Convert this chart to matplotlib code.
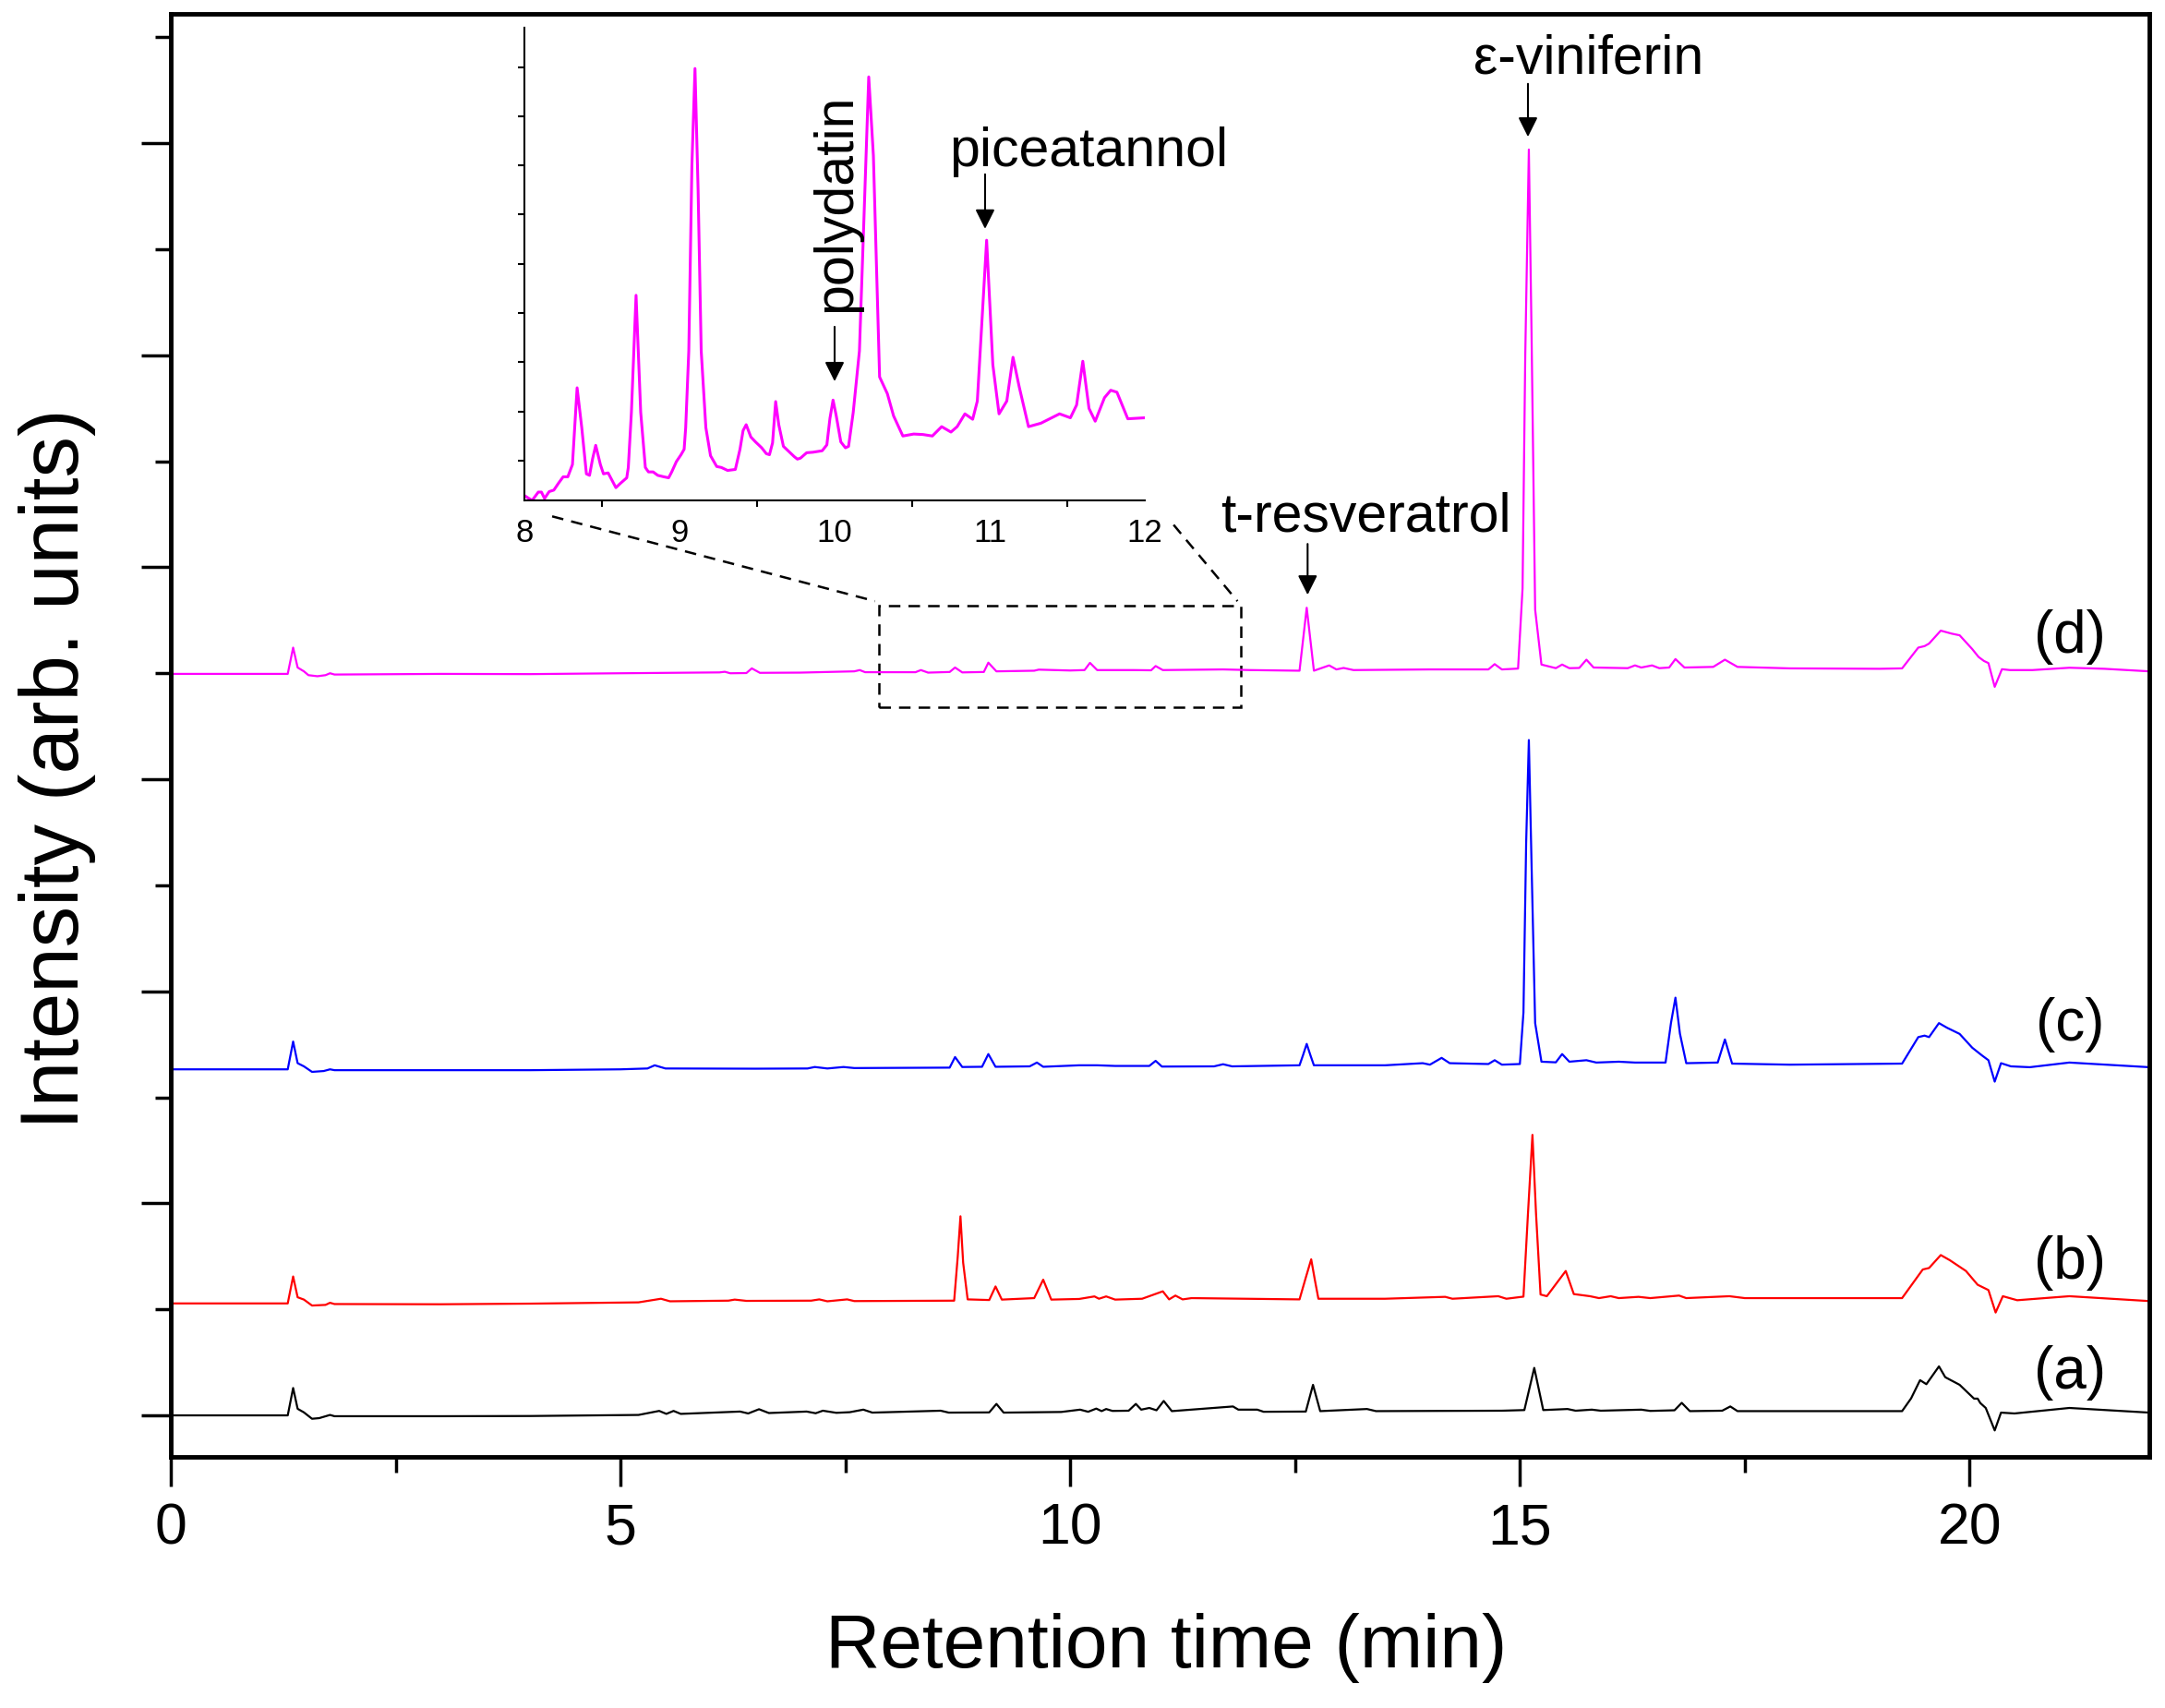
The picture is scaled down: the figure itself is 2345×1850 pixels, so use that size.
import numpy as np
import matplotlib.pyplot as plt
from matplotlib.ticker import MultipleLocator

plt.rcParams['font.family'] = ['Liberation Sans', 'DejaVu Sans']

# chromatograms, (retention time [min], offset intensity [arb. units])
trace_a = [(0.00, 0.000), (1.30, 0.000), (1.36, 0.129), (1.41, 0.031), (1.48, 0.014), (1.57, -0.016),
           (1.65, -0.013), (1.77, 0.002), (1.82, -0.004), (3.00, -0.004), (4.00, -0.003), (5.20, 0.002),
           (5.43, 0.021), (5.51, 0.007), (5.59, 0.021), (5.67, 0.007), (6.33, 0.018), (6.42, 0.009),
           (6.54, 0.029), (6.65, 0.011), (7.07, 0.018), (7.17, 0.010), (7.25, 0.022), (7.40, 0.012),
           (7.55, 0.015), (7.70, 0.027), (7.80, 0.013), (8.56, 0.022), (8.65, 0.013), (9.10, 0.014),
           (9.18, 0.054), (9.26, 0.013), (9.90, 0.016), (10.11, 0.027), (10.20, 0.017), (10.29, 0.032),
           (10.35, 0.020), (10.40, 0.030), (10.47, 0.021), (10.65, 0.022), (10.73, 0.054), (10.79, 0.027),
           (10.88, 0.035), (10.96, 0.024), (11.04, 0.068), (11.13, 0.020), (11.81, 0.042), (11.87, 0.027),
           (12.08, 0.027), (12.15, 0.017), (12.62, 0.018), (12.70, 0.144), (12.78, 0.020), (13.30, 0.030),
           (13.40, 0.020), (14.80, 0.022), (15.05, 0.025), (15.16, 0.224), (15.26, 0.025), (15.53, 0.030),
           (15.62, 0.022), (15.80, 0.027), (15.90, 0.022), (16.35, 0.027), (16.45, 0.021), (16.72, 0.024),
           (16.80, 0.059), (16.89, 0.020), (17.25, 0.022), (17.34, 0.042), (17.42, 0.020), (19.25, 0.020),
           (19.35, 0.080), (19.45, 0.166), (19.52, 0.147), (19.66, 0.231), (19.73, 0.180), (19.89, 0.144),
           (20.05, 0.079), (20.09, 0.079), (20.12, 0.058), (20.18, 0.035), (20.28, -0.071), (20.35, 0.013),
           (20.50, 0.009), (21.11, 0.035), (22.00, 0.013)]

trace_b = [(0.00, 0.528), (1.30, 0.528), (1.36, 0.655), (1.41, 0.557), (1.48, 0.546), (1.57, 0.518),
           (1.72, 0.521), (1.77, 0.531), (1.82, 0.525), (3.00, 0.524), (4.00, 0.527), (5.20, 0.533),
           (5.45, 0.550), (5.55, 0.538), (6.20, 0.541), (6.27, 0.546), (6.40, 0.540), (7.12, 0.541),
           (7.21, 0.547), (7.30, 0.538), (7.52, 0.547), (7.60, 0.539), (8.71, 0.541), (8.75, 0.750),
           (8.78, 0.939), (8.81, 0.720), (8.86, 0.547), (9.10, 0.544), (9.17, 0.608), (9.24, 0.546),
           (9.60, 0.553), (9.70, 0.640), (9.79, 0.546), (10.10, 0.549), (10.27, 0.561), (10.32, 0.550),
           (10.40, 0.561), (10.50, 0.546), (10.80, 0.550), (11.03, 0.585), (11.10, 0.547), (11.17, 0.565),
           (11.25, 0.547), (11.35, 0.553), (12.55, 0.547), (12.62, 0.650), (12.68, 0.736), (12.72, 0.640),
           (12.76, 0.550), (13.50, 0.550), (14.17, 0.559), (14.25, 0.550), (14.76, 0.562), (14.85, 0.550),
           (15.04, 0.560), (15.09, 0.950), (15.14, 1.323), (15.18, 0.950), (15.23, 0.570), (15.30, 0.562),
           (15.51, 0.681), (15.60, 0.572), (15.78, 0.562), (15.88, 0.553), (16.01, 0.562), (16.10, 0.553),
           (16.32, 0.559), (16.45, 0.553), (16.77, 0.565), (16.85, 0.553), (17.33, 0.562), (17.50, 0.553),
           (19.25, 0.553), (19.48, 0.688), (19.55, 0.695), (19.68, 0.756), (19.78, 0.732), (19.96, 0.681),
           (20.09, 0.616), (20.21, 0.591), (20.29, 0.485), (20.37, 0.562), (20.53, 0.543), (21.11, 0.562),
           (22.00, 0.539)]

trace_c = [(0.00, 1.632), (1.30, 1.632), (1.36, 1.763), (1.41, 1.661), (1.48, 1.646), (1.57, 1.620),
           (1.70, 1.624), (1.77, 1.632), (1.82, 1.628), (3.00, 1.628), (4.00, 1.628), (5.00, 1.632),
           (5.30, 1.636), (5.38, 1.651), (5.50, 1.636), (6.50, 1.635), (7.08, 1.636), (7.16, 1.643),
           (7.30, 1.636), (7.48, 1.643), (7.60, 1.638), (8.66, 1.640), (8.72, 1.690), (8.80, 1.643),
           (9.02, 1.644), (9.09, 1.704), (9.17, 1.644), (9.55, 1.646), (9.63, 1.664), (9.70, 1.644),
           (10.10, 1.651), (10.30, 1.651), (10.50, 1.648), (10.88, 1.648), (10.95, 1.672), (11.02, 1.645),
           (11.60, 1.646), (11.70, 1.656), (11.80, 1.646), (12.55, 1.651), (12.59, 1.700), (12.63, 1.752),
           (12.67, 1.700), (12.71, 1.651), (13.50, 1.651), (13.92, 1.661), (14.00, 1.654), (14.13, 1.686),
           (14.22, 1.661), (14.65, 1.657), (14.72, 1.675), (14.80, 1.654), (15.00, 1.657), (15.04, 1.900),
           (15.07, 2.700), (15.10, 3.185), (15.13, 2.600), (15.17, 1.850), (15.24, 1.668), (15.40, 1.665),
           (15.47, 1.704), (15.55, 1.668), (15.74, 1.675), (15.85, 1.664), (16.10, 1.668), (16.28, 1.664),
           (16.47, 1.664), (16.62, 1.664), (16.68, 1.850), (16.73, 1.970), (16.78, 1.800), (16.85, 1.661),
           (17.20, 1.664), (17.28, 1.773), (17.36, 1.659), (18.00, 1.654), (19.25, 1.659), (19.43, 1.784),
           (19.50, 1.791), (19.55, 1.784), (19.66, 1.850), (19.75, 1.828), (19.89, 1.799), (20.03, 1.734),
           (20.14, 1.697), (20.21, 1.675), (20.28, 1.574), (20.35, 1.661), (20.46, 1.646), (20.67, 1.642),
           (21.11, 1.664), (22.00, 1.642)]

trace_d = [(0.00, 3.497), (1.30, 3.497), (1.36, 3.621), (1.41, 3.527), (1.48, 3.509), (1.53, 3.491),
           (1.63, 3.486), (1.72, 3.491), (1.77, 3.500), (1.82, 3.494), (3.00, 3.497), (4.00, 3.496),
           (5.00, 3.500), (6.10, 3.504), (6.16, 3.507), (6.22, 3.500), (6.40, 3.501), (6.46, 3.523),
           (6.55, 3.502), (7.00, 3.503), (7.60, 3.509), (7.66, 3.515), (7.72, 3.505), (8.28, 3.505),
           (8.34, 3.515), (8.42, 3.503), (8.66, 3.506), (8.72, 3.527), (8.80, 3.504), (9.04, 3.506),
           (9.09, 3.550), (9.18, 3.509), (9.60, 3.512), (9.65, 3.517), (10.00, 3.513), (10.16, 3.515),
           (10.22, 3.549), (10.30, 3.515), (10.70, 3.515), (10.90, 3.514), (10.95, 3.534), (11.03, 3.515),
           (11.70, 3.518), (12.00, 3.515), (12.55, 3.512), (12.59, 3.660), (12.63, 3.809), (12.67, 3.660),
           (12.71, 3.512), (12.88, 3.537), (12.96, 3.518), (13.04, 3.525), (13.15, 3.515), (14.00, 3.518),
           (14.65, 3.518), (14.72, 3.543), (14.80, 3.518), (14.98, 3.522), (15.03, 3.900), (15.06, 5.000),
           (15.10, 5.970), (15.13, 5.100), (15.17, 3.800), (15.24, 3.541), (15.40, 3.524), (15.47, 3.541),
           (15.55, 3.524), (15.66, 3.525), (15.74, 3.564), (15.82, 3.527), (16.20, 3.524), (16.28, 3.537),
           (16.35, 3.527), (16.47, 3.537), (16.55, 3.524), (16.66, 3.527), (16.73, 3.567), (16.83, 3.527),
           (17.15, 3.530), (17.28, 3.564), (17.42, 3.530), (18.00, 3.523), (19.00, 3.521), (19.25, 3.523),
           (19.43, 3.621), (19.50, 3.628), (19.55, 3.640), (19.68, 3.701), (19.80, 3.687), (19.89, 3.679),
           (20.03, 3.614), (20.10, 3.577), (20.16, 3.558), (20.21, 3.548), (20.28, 3.436), (20.36, 3.519),
           (20.45, 3.515), (20.70, 3.515), (21.11, 3.526), (21.50, 3.521), (22.00, 3.509)]

# zoom of trace (d), 8-12 min
trace_zoom = [(8.00, -0.71), (8.05, -0.81), (8.09, -0.64), (8.11, -0.64), (8.13, -0.77), (8.16, -0.63),
              (8.19, -0.60), (8.22, -0.46), (8.25, -0.33), (8.28, -0.33), (8.31, -0.08), (8.34, 1.48),
              (8.37, 0.67), (8.40, -0.27), (8.42, -0.30), (8.44, 0.04), (8.46, 0.31), (8.49, -0.08),
              (8.51, -0.27), (8.54, -0.25), (8.57, -0.43), (8.59, -0.55), (8.62, -0.46), (8.66, -0.35),
              (8.67, -0.14), (8.69, 0.98), (8.72, 3.36), (8.75, 0.98), (8.78, -0.14), (8.80, -0.23),
              (8.83, -0.23), (8.86, -0.30), (8.90, -0.33), (8.93, -0.35), (8.95, -0.23), (8.98, -0.02),
              (9.01, 0.12), (9.03, 0.23), (9.04, 0.67), (9.06, 2.23), (9.08, 6.00), (9.10, 7.97),
              (9.12, 5.50), (9.14, 2.23), (9.17, 0.67), (9.20, 0.10), (9.24, -0.12), (9.27, -0.14),
              (9.31, -0.20), (9.36, -0.18), (9.39, 0.23), (9.41, 0.61), (9.43, 0.73), (9.46, 0.48),
              (9.49, 0.38), (9.53, 0.26), (9.56, 0.14), (9.58, 0.12), (9.60, 0.36), (9.62, 1.20),
              (9.64, 0.73), (9.67, 0.29), (9.70, 0.20), (9.74, 0.08), (9.76, 0.03), (9.78, 0.05),
              (9.82, 0.16), (9.86, 0.17), (9.92, 0.20), (9.95, 0.32), (9.97, 0.86), (9.99, 1.23),
              (10.01, 0.92), (10.04, 0.38), (10.07, 0.26), (10.09, 0.29), (10.12, 0.98), (10.16, 2.23),
              (10.19, 5.00), (10.22, 7.80), (10.25, 6.20), (10.29, 1.70), (10.34, 1.36), (10.38, 0.91),
              (10.44, 0.50), (10.51, 0.54), (10.57, 0.53), (10.63, 0.50), (10.69, 0.69), (10.75, 0.58),
              (10.79, 0.69), (10.84, 0.95), (10.89, 0.84), (10.92, 1.21), (10.98, 4.48), (11.02, 1.95),
              (11.06, 0.95), (11.11, 1.21), (11.15, 2.10), (11.19, 1.50), (11.25, 0.69), (11.33, 0.76),
              (11.45, 0.95), (11.52, 0.87), (11.56, 1.13), (11.60, 2.02), (11.64, 1.06), (11.68, 0.80),
              (11.74, 1.28), (11.78, 1.43), (11.82, 1.39), (11.89, 0.85), (12.00, 0.87)]

sample_labels = ['(a)', '(b)', '(c)', '(d)']
label_y = [0.20, 0.72, 1.84, 3.67]
colors = ['black', 'red', 'blue', 'magenta']

fig = plt.figure(figsize=(23.45, 18.5), dpi=100)
ax = fig.add_axes([0.0789, 0.1470, 0.9139, 0.8449])

for tr, col, lab, ly in zip([trace_a, trace_b, trace_c, trace_d], colors, sample_labels, label_y):
    arr = np.array(tr)
    ax.plot(arr[:, 0], arr[:, 1], color=col, lw=1.6)
    ax.text(21.12, ly, lab, fontsize=46, ha='center', va='center')

ax.set_xlim(0, 22)
ax.set_ylim(-0.196, 6.61)
ax.xaxis.set_major_locator(MultipleLocator(5))
ax.xaxis.set_minor_locator(MultipleLocator(2.5))
ax.yaxis.set_major_locator(MultipleLocator(1))
ax.yaxis.set_minor_locator(MultipleLocator(0.5))
ax.set_yticklabels([])
ax.tick_params(which='major', direction='out', length=23, width=2.5, labelsize=45, pad=12)
ax.tick_params(which='minor', direction='out', length=12, width=2.5)
for s in ax.spines.values():
    s.set_linewidth(3.5)
ax.set_xlabel('Retention time (min)', fontsize=59)
ax.set_ylabel('Intensity (arb. units)', fontsize=64)
ax.xaxis.set_label_coords(0.503, -0.108)
ax.yaxis.set_label_coords(-0.038, 0.477)

arrow = dict(arrowstyle='-|>,head_length=0.4,head_width=0.2', color='black', lw=1.5,
             mutation_scale=32, shrinkA=0, shrinkB=0)
ax.annotate('', xy=(15.09, 6.03), xytext=(15.09, 6.28), arrowprops=arrow)
ax.text(15.76, 6.33, 'ε-viniferin', fontsize=42.5, ha='center', va='baseline')
ax.annotate('', xy=(12.64, 3.87), xytext=(12.64, 4.11), arrowprops=arrow)
ax.text(13.29, 4.17, 't-resveratrol', fontsize=42.5, ha='center', va='baseline')

# dashed box + connectors to the inset
dash = (0, (5, 3.5))
ax.add_patch(plt.Rectangle((7.87, 3.34), 4.03, 0.48, fill=False, ls=dash, lw=1.8, color='black'))
ax.plot([4.24, 7.83], [4.24, 3.84], ls=dash, lw=1.8, color='black', clip_on=False)
ax.plot([11.15, 11.86], [4.20, 3.84], ls=dash, lw=1.8, color='black', clip_on=False)

# inset
axin = fig.add_axes([0.2422, 0.7070, 0.2866, 0.2768])
axin.patch.set_alpha(0)
zarr = np.array(trace_zoom)
axin.plot(zarr[:, 0], zarr[:, 1], color='magenta', lw=2.2)
axin.set_xlim(8, 12)
axin.set_ylim(-0.81, 8.80)
axin.spines['top'].set_visible(False)
axin.spines['right'].set_visible(False)
for s in ['left', 'bottom']:
    axin.spines[s].set_linewidth(1.5)
axin.xaxis.set_major_locator(MultipleLocator(1))
axin.xaxis.set_minor_locator(MultipleLocator(0.5))
axin.yaxis.set_major_locator(MultipleLocator(1))
axin.set_yticklabels([])
axin.tick_params(axis='x', which='major', length=0, labelsize=25, pad=14)
axin.tick_params(axis='x', which='minor', length=5, width=1.5, direction='out')
axin.tick_params(axis='y', which='major', length=5, width=1.5, direction='out')

axin.annotate('', xy=(10.0, 1.61), xytext=(10.0, 2.72), arrowprops=arrow)
axin.text(10.01, 5.23, 'polydatin', fontsize=42.5, rotation=90, ha='center', va='center')
axin.annotate('', xy=(10.97, 4.71), xytext=(10.97, 5.82), arrowprops=arrow)
axin.text(11.64, 5.98, 'piceatannol', fontsize=42.5, ha='center', va='baseline')

fig.savefig('out.png', dpi=100)
